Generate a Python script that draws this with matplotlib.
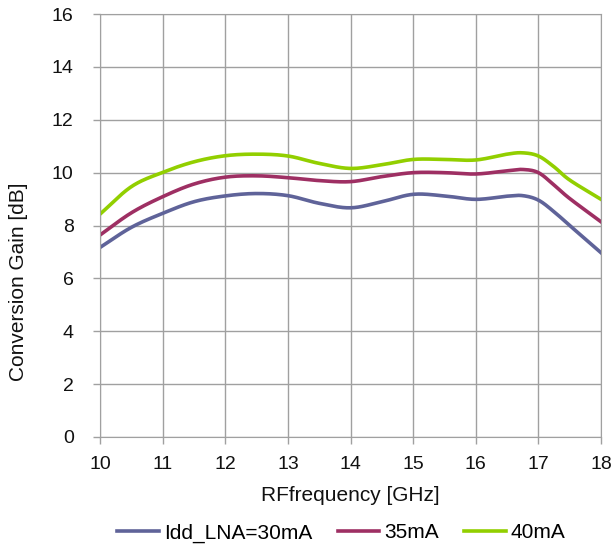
import matplotlib
matplotlib.use('Agg')
import matplotlib.pyplot as plt
import numpy as np

plt.rcParams['font.family'] = ['Liberation Sans', 'DejaVu Sans']

freq = [10, 10.5, 11, 11.5, 12, 12.5, 13, 13.5, 14, 14.5, 15, 15.5, 16, 16.5, 16.75, 17, 17.25, 17.5, 18]
gain_30 = [7.17, 7.93, 8.46, 8.9, 9.12, 9.21, 9.13, 8.84, 8.67, 8.9, 9.18, 9.12, 8.99, 9.11, 9.13, 8.96, 8.52, 8.0, 6.97]
gain_35 = [7.64, 8.48, 9.09, 9.57, 9.83, 9.88, 9.81, 9.7, 9.66, 9.85, 10.0, 10.0, 9.95, 10.07, 10.12, 10.0, 9.53, 9.02, 8.14]
gain_40 = [8.43, 9.47, 10.01, 10.41, 10.64, 10.7, 10.63, 10.35, 10.16, 10.3, 10.5, 10.5, 10.48, 10.7, 10.75, 10.63, 10.22, 9.72, 8.99]
labels = ['Idd_LNA=30mA', '35mA', '40mA']
colors = ['#5f6399', '#9e2f63', '#92cf00']


def smooth(x, y, n=24):
    # catmull-rom through the points, like excel's smoothed line
    x = np.asarray(x, float)
    y = np.asarray(y, float)
    px = np.concatenate([[2 * x[0] - x[1]], x, [2 * x[-1] - x[-2]]])
    py = np.concatenate([[2 * y[0] - y[1]], y, [2 * y[-1] - y[-2]]])
    xs, ys = [], []
    t = np.linspace(0, 1, n, endpoint=False)
    for i in range(1, len(px) - 2):
        for arr, out in ((px, xs), (py, ys)):
            p0, p1, p2, p3 = arr[i - 1], arr[i], arr[i + 1], arr[i + 2]
            out.append(0.5 * (2 * p1 + (-p0 + p2) * t + (2 * p0 - 5 * p1 + 4 * p2 - p3) * t ** 2
                              + (-p0 + 3 * p1 - 3 * p2 + p3) * t ** 3))
    xs.append([x[-1]])
    ys.append([y[-1]])
    return np.concatenate(xs), np.concatenate(ys)


fig = plt.figure(figsize=(6.11, 5.45), dpi=100)
ax = fig.add_axes([0.1637, 0.1982, 0.82, 0.776])

for g, lab, c in zip([gain_30, gain_35, gain_40], labels, colors):
    sx, sy = smooth(freq, g)
    ax.plot(sx, sy, color=c, lw=2.6, label=lab)

ax.set_xlim(10, 18)
ax.set_ylim(0, 16)
ax.set_xticks(range(10, 19))
ax.set_yticks(range(0, 17, 2))
ax.grid(True, color='#a0a0a0', lw=1)
ax.set_axisbelow(True)
for s in ax.spines.values():
    s.set_color('#a0a0a0')
ax.tick_params(direction='out', length=5, width=1, color='#a0a0a0',
               labelsize=14, colors='#a0a0a0', labelcolor='#111111')
ax.tick_params(axis='y', pad=14)
ax.tick_params(axis='x', pad=9)

ax.set_xlabel('RFfrequency [GHz]', fontsize=15, color='#111111')
ax.xaxis.set_label_coords(0.5, -0.139)
ax.xaxis.label.set_va('center')
ax.set_ylabel('Conversion Gain [dB]', fontsize=15, color='#111111')
ax.yaxis.set_label_coords(-0.1637, 0.366)
ax.yaxis.label.set_va('center')

fig.legend(loc='center', bbox_to_anchor=(0.559, 0.022), ncol=3, frameon=False,
           fontsize=15, handlelength=2.0, columnspacing=1.2, handletextpad=0.25,
           borderpad=0, borderaxespad=0)

fig.savefig('out.png', dpi=100)
